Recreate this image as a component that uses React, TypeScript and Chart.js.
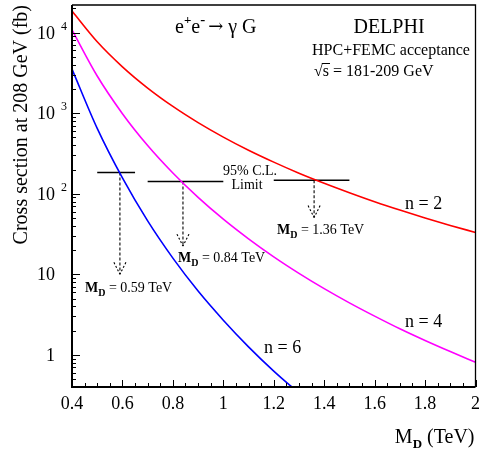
import { useEffect, useRef } from "react";
import { Chart, registerables } from "chart.js";

Chart.register(...registerables);

// ---- data ----
const massTeV = [0.4, 0.5, 0.6, 0.7, 0.8, 0.9, 1.0, 1.1, 1.2, 1.3, 1.4, 1.5, 1.6, 1.7, 1.8, 1.9, 2.0];
const xsecN2 = [18500, 7690, 3760, 2050, 1213, 764, 505, 347, 247, 180, 135, 103, 79.6, 62.7, 50.1, 40.5, 33.1];
const xsecN4 = [10800, 2890, 986, 397, 181, 90.2, 48.4, 27.6, 16.5, 10.3, 6.65, 4.43, 3.03, 2.11, 1.51, 1.1, 0.81];
const massN6 = [0.4, 0.5, 0.6, 0.7, 0.8, 0.9, 1.0, 1.1, 1.2, 1.3];
const xsecN6 = [3520, 647, 157, 46, 15.9, 6.2, 2.7, 1.26, 0.63, 0.335];

const seriesLabels = ["n = 2", "n = 4", "n = 6"];
const seriesColors = ["#ff0000", "#ff00ff", "#0000ff"];

const limitMass = [0.59, 0.84, 1.36];
const limitMassText = ["0.59", "0.84", "1.36"];
const limitXsec = [183, 142, 147];
const limitLineStart = [0.5, 0.7, 1.2];
const limitLineEnd = [0.65, 1.0, 1.5];
const arrowTipXsec = [10, 22.4, 50.6];

const xTickValues = [0.4, 0.6, 0.8, 1.0, 1.2, 1.4, 1.6, 1.8, 2.0];
const xTickLabels = ["0.4", "0.6", "0.8", "1", "1.2", "1.4", "1.6", "1.8", "2"];
const yTickValues = [1, 10, 100, 1000, 10000];
const yTickBase = ["1", "10", "10", "10", "10"];
const yTickExp = ["", "", "2", "3", "4"];

const yAxisTitle = "Cross section at 208 GeV (fb)";

const SERIF = '"Liberation Serif", "Times New Roman", Times, serif';

const pts = (xs: number[], ys: number[]) => xs.map((x, i) => ({ x, y: ys[i] }));

function seg(ctx: CanvasRenderingContext2D, x1: number, y1: number, x2: number, y2: number) {
  ctx.beginPath();
  ctx.moveTo(x1, y1);
  ctx.lineTo(x2, y2);
  ctx.stroke();
}

function text(ctx: CanvasRenderingContext2D, s: string, x: number, y: number, size: number, align: CanvasTextAlign = "left", weight = "normal", family = SERIF) {
  ctx.font = `${weight} ${size}px ${family}`;
  ctx.textAlign = align;
  ctx.textBaseline = "alphabetic";
  ctx.fillText(s, x, y);
  return ctx.measureText(s).width;
}

function massLabel(ctx: CanvasRenderingContext2D, x: number, base: number, val: string) {
  let cx = x;
  cx += text(ctx, "M", cx, base, 14, "left", "bold");
  cx += text(ctx, "D", cx, base + 4, 10, "left", "bold");
  text(ctx, ` = ${val} TeV`, cx, base, 14, "left", "normal");
}

const decorations = {
  id: "decorations",
  afterDraw(chart: any) {
    const { ctx, chartArea: a, scales } = chart;
    const xs = scales.x;
    const ys = scales.y;
    ctx.save();
    ctx.strokeStyle = "#000";
    ctx.fillStyle = "#000";
    ctx.setLineDash([]);

    // frame
    ctx.lineWidth = 1.3;
    ctx.beginPath();
    ctx.moveTo(a.left, a.top);
    ctx.lineTo(a.right, a.top);
    ctx.lineTo(a.right, a.bottom);
    ctx.stroke();
    ctx.lineWidth = 2;
    ctx.beginPath();
    ctx.moveTo(a.left, a.top);
    ctx.lineTo(a.left, a.bottom);
    ctx.lineTo(a.right, a.bottom);
    ctx.stroke();

    // x ticks (inward)
    ctx.lineWidth = 1;
    for (let i = 0; i <= 32; i++) {
      const v = 0.4 + i * 0.05;
      const px = Math.round(xs.getPixelForValue(v)) + 0.5;
      const len = i % 4 === 0 ? 7 : 4;
      seg(ctx, px, a.bottom, px, a.bottom - len);
    }
    // y ticks (log)
    for (let d = -1; d <= 4; d++) {
      for (let m = 1; m <= 9; m++) {
        const v = m * Math.pow(10, d);
        if (v < ys.min || v > ys.max) continue;
        const py = Math.round(ys.getPixelForValue(v)) + 0.5;
        const len = m === 1 ? 8 : 4;
        seg(ctx, a.left, py, a.left + len, py);
      }
    }

    // y tick labels
    yTickValues.forEach((v, i) => {
      const py = ys.getPixelForValue(v);
      text(ctx, yTickBase[i], a.left - 17, py + 6, 18, "right");
      if (yTickExp[i]) text(ctx, yTickExp[i], a.left - 11, py - 3, 12, "left");
    });

    // arrow heads
    ctx.lineWidth = 1.1;
    ctx.setLineDash([2, 2]);
    limitMass.forEach((m, i) => {
      const tx = xs.getPixelForValue(m);
      const ty = ys.getPixelForValue(arrowTipXsec[i]);
      seg(ctx, tx - 6, ty - 12, tx, ty);
      seg(ctx, tx + 6, ty - 12, tx, ty);
    });
    ctx.setLineDash([]);

    // texts
    // e+e- -> gamma G
    let cx = 175;
    cx += text(ctx, "e", cx, 33, 20);
    cx += text(ctx, "+", cx, 24, 13, "left", "bold");
    cx += text(ctx, "e", cx, 33, 20);
    cx += text(ctx, "-", cx, 24, 15, "left", "bold");
    cx += 3;
    cx += text(ctx, "\u2192", cx, 32, 18, "left", "normal", '"DejaVu Serif", serif');
    text(ctx, " \u03b3 G", cx, 33, 20);

    text(ctx, "DELPHI", 389, 33, 20, "center");
    text(ctx, "HPC+FEMC acceptance", 391, 55, 16, "center");
    // sqrt(s) line
    cx = 314;
    const w1 = text(ctx, "\u221a", cx, 76, 16);
    cx += w1;
    const w2 = text(ctx, "s", cx, 76, 16);
    ctx.lineWidth = 1;
    seg(ctx, cx - 1, 63.5, cx + w2 + 1, 63.5);
    cx += w2;
    text(ctx, " = 181-209 GeV", cx, 76, 16);

    text(ctx, "95% C.L.", 250, 175, 14, "center");
    text(ctx, "Limit", 247, 189, 14, "center");

    const labelX = [85, 178, 277];
    const labelBase = [292, 262, 234];
    limitMassText.forEach((s, i) => massLabel(ctx, labelX[i], labelBase[i], s));

    text(ctx, seriesLabels[0], 405, 209, 18);
    text(ctx, seriesLabels[1], 405, 327, 18);
    text(ctx, seriesLabels[2], 264, 353, 18);

    // x axis title M_D (TeV)
    ctx.font = `20px ${SERIF}`;
    const wM = ctx.measureText("M").width;
    const wT = ctx.measureText(" (TeV)").width;
    ctx.font = `bold 13px ${SERIF}`;
    const wD = ctx.measureText("D").width;
    cx = a.right - 1 - (wM + wD + wT);
    cx += text(ctx, "M", cx, 443, 20);
    cx += text(ctx, "D", cx, 448, 13, "left", "bold");
    text(ctx, " (TeV)", cx, 443, 20);

    ctx.restore();
  },
};

export default function App() {
  const ref = useRef<HTMLCanvasElement | null>(null);

  useEffect(() => {
    if (!ref.current) return;
    const curveDs = (data: any[], color: string) => ({
      data,
      borderColor: color,
      borderWidth: 1.6,
      pointRadius: 0,
      fill: false,
      cubicInterpolationMode: "monotone" as const,
    });
    const datasets: any[] = [
      curveDs(pts(massTeV, xsecN2), seriesColors[0]),
      curveDs(pts(massTeV, xsecN4), seriesColors[1]),
      curveDs(pts(massN6, xsecN6), seriesColors[2]),
    ];
    limitMass.forEach((m, i) => {
      datasets.push({
        data: [
          { x: limitLineStart[i], y: limitXsec[i] },
          { x: limitLineEnd[i], y: limitXsec[i] },
        ],
        borderColor: "#000",
        borderWidth: 1.5,
        pointRadius: 0,
        fill: false,
      });
      datasets.push({
        data: [
          { x: m, y: limitXsec[i] },
          { x: m, y: arrowTipXsec[i] },
        ],
        borderColor: "#000",
        borderWidth: 1.1,
        borderDash: [3, 2],
        pointRadius: 0,
        fill: false,
      });
    });

    const chart = new Chart(ref.current, {
      type: "line",
      data: { datasets },
      options: {
        responsive: false,
        animation: false,
        devicePixelRatio: 1,
        layout: { padding: { top: 5, right: 5, left: 0, bottom: 0 } },
        plugins: { legend: { display: false }, tooltip: { enabled: false } },
        scales: {
          x: {
            type: "linear",
            min: 0.4,
            max: 2,
            grid: { display: false, drawTicks: false },
            border: { display: false },
            afterBuildTicks: (s: any) => {
              s.ticks = xTickValues.map((v) => ({ value: v }));
            },
            afterFit: (s: any) => {
              s.height = 64;
            },
            ticks: {
              callback: (_v: any, i: number) => xTickLabels[i],
              font: { family: SERIF, size: 18 },
              color: "#000",
              padding: 6,
              maxRotation: 0,
              autoSkip: false,
            },
          },
          y: {
            type: "logarithmic",
            min: 0.4,
            max: 22000,
            grid: { display: false, drawTicks: false },
            border: { display: false },
            ticks: { display: false },
            afterFit: (s: any) => {
              s.width = 72;
            },
            title: {
              display: true,
              text: yAxisTitle,
              align: "end",
              color: "#000",
              font: { family: SERIF, size: 20 },
              padding: { top: 10, bottom: 0 },
            },
          },
        },
      },
      plugins: [decorations],
    } as any);
    return () => chart.destroy();
  }, []);

  return (
    <div style={{ position: "absolute", left: 0, top: 0, width: 486, height: 451, background: "#fff" }}>
      <canvas ref={ref} width={486} height={451} style={{ display: "block" }} />
    </div>
  );
}
